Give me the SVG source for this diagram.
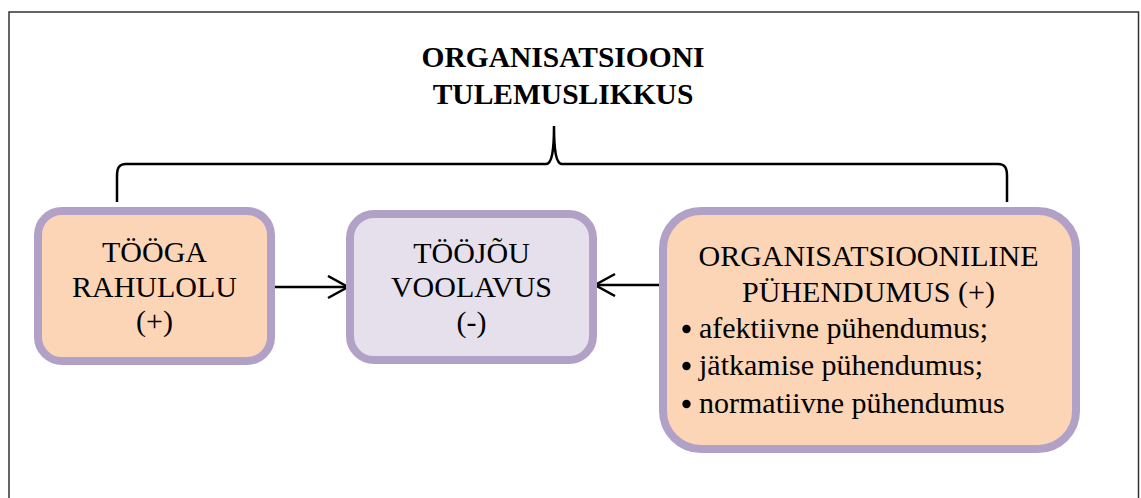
<svg xmlns="http://www.w3.org/2000/svg" width="1141" height="498" viewBox="0 0 1141 498">
<defs>
<style>
.t{font-family:"Liberation Serif","Times New Roman",Times,serif;font-size:30px;fill:#000;}
.c{text-anchor:middle;}
.b{font-weight:bold;font-size:29.5px;}
.box{stroke:#B2A1C7;stroke-width:8;}
.or{fill:#FBD5B5;}
.lv{fill:#E5E0EC;}
.ln{fill:none;stroke:#000;stroke-width:2.5;}
</style>
<marker id="ah" markerWidth="24" markerHeight="26" refX="21" refY="12" orient="auto" markerUnits="userSpaceOnUse">
<path d="M1,1 L21,12 L1,23" fill="none" stroke="#000" stroke-width="2.5"/>
</marker>
</defs>
<rect width="1141" height="498" fill="#fff"/>
<path d="M9,498 V12 H1138.5 V498" fill="none" stroke="#333" stroke-width="1.5"/>
<g id="title">
<text class="t c b" x="563" y="67">ORGANISATSIOONI</text>
<text class="t c b" x="563" y="104">TULEMUSLIKKUS</text>
</g>
<g id="connectors">
<path class="ln" d="M117,202 V176 C117,168 119,164 126,164 H546 C552,164 554,150 554,126 C554,150 556,164 562,164 H998 C1005,164 1007,168 1007,176 V202" stroke-width="2"/>
<line class="ln" x1="271" y1="287" x2="348" y2="287" marker-end="url(#ah)"/>
<line class="ln" x1="663" y1="285" x2="595" y2="285" marker-end="url(#ah)"/>
</g>
<g id="rahulolu">
<rect class="box or" x="38" y="211" width="233" height="150" rx="24"/>
<text class="t c" x="154.5" y="262">TÖÖGA</text>
<text class="t c" x="154.5" y="297">RAHULOLU</text>
<text class="t c" x="154.5" y="331">(+)</text>
</g>
<g id="voolavus">
<rect class="box lv" x="350" y="214" width="243" height="146" rx="24"/>
<text class="t c" x="471.5" y="263">TÖÖJÕU</text>
<text class="t c" x="471.5" y="297">VOOLAVUS</text>
<text class="t c" x="471.5" y="332">(-)</text>
</g>
<g id="puhendumus">
<rect class="box or" x="663" y="211" width="413" height="238" rx="38"/>
<text class="t c" x="868.5" y="266">ORGANISATSIOONILINE</text>
<text class="t c" x="868.5" y="302">PÜHENDUMUS (+)</text>
<circle cx="686.5" cy="329" r="4.2"/>
<circle cx="686.5" cy="366" r="4.2"/>
<circle cx="686.5" cy="404" r="4.2"/>
<text class="t" x="699" y="338">afektiivne pühendumus;</text>
<text class="t" x="699" y="375">jätkamise pühendumus;</text>
<text class="t" x="699" y="413">normatiivne pühendumus</text>
</g>
</svg>
